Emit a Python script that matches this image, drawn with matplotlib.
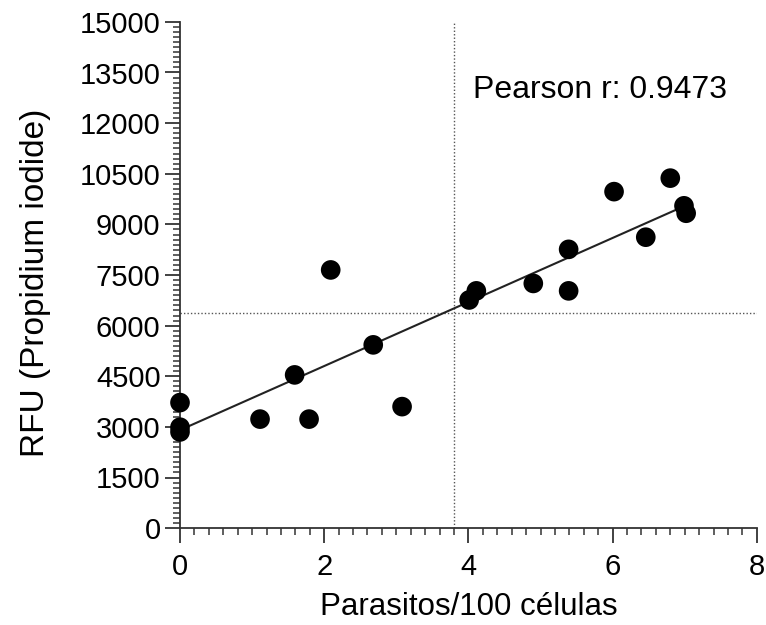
import numpy as np
import matplotlib
matplotlib.use('Agg')
import matplotlib.pyplot as plt
from matplotlib.ticker import MultipleLocator

plt.rcParams['font.family'] = ['Liberation Sans', 'DejaVu Sans']

# Data
parasitos = [0, 0, 0, 1.11, 1.79, 1.59, 2.09, 2.68, 3.08, 4.01, 4.11,
             4.90, 5.39, 5.39, 6.02, 6.46, 6.80, 6.99, 7.02]
rfu = [3720, 2990, 2850, 3230, 3230, 4540, 7650, 5430, 3600, 6760, 7030,
       7250, 8260, 7030, 9970, 8620, 10370, 9550, 9330]

# linear fit line as drawn in the reference
fit_x = [0, 6.93]
fit_y = [2905, 9480]

# dotted reference lines
vline_x = 3.80
hline_y = 6375

y_ticks = list(range(0, 15001, 1500))
x_ticks = [0, 2, 4, 6, 8]

fig = plt.figure(figsize=(7.66, 6.25), dpi=100)
ax = fig.add_axes([0.235, 0.155, 0.753, 0.81])

ax.plot(fit_x, fit_y, color='#222222', linewidth=1.5, zorder=2)
ax.axvline(vline_x, color='#555555', linestyle=(0, (1, 1.5)), linewidth=1.0, zorder=1)
ax.axhline(hline_y, color='#555555', linestyle=(0, (1, 1.5)), linewidth=1.0, zorder=1)
ax.scatter(parasitos, rfu, s=200, color='black', edgecolor='none', zorder=3, clip_on=False)

ax.text(4.06, 12750, 'Pearson r: 0.9473', fontsize=23, va='baseline', ha='left')

ax.set_xlim(0, 8)
ax.set_ylim(0, 15000)
ax.set_xticks(x_ticks)
ax.set_yticks(y_ticks)
ax.xaxis.set_minor_locator(MultipleLocator(0.2))
ax.yaxis.set_minor_locator(MultipleLocator(150))

for side in ['top', 'right']:
    ax.spines[side].set_visible(False)
for side in ['left', 'bottom']:
    ax.spines[side].set_linewidth(1.3)
    ax.spines[side].set_color('#333333')

ax.tick_params(which='major', length=11, width=1.3, color='#333333', labelsize=21)
ax.tick_params(axis='x', which='major', pad=7)
ax.tick_params(axis='y', which='major', pad=3)
ax.tick_params(which='minor', length=5, width=1.1, color='#333333')

ax.set_xlabel('Parasitos/100 células', fontsize=22.5, labelpad=8)
ax.set_ylabel('RFU (Propidium iodide)', fontsize=24)
ax.yaxis.set_label_coords(-0.224, 0.485)

fig.savefig('out.png', dpi=100)
